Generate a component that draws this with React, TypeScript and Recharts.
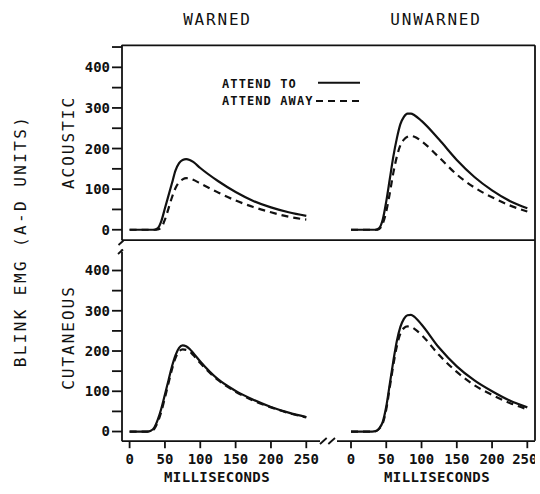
import React from 'react';
import { LineChart, Line, XAxis, YAxis } from 'recharts';

// time axis, shared by every panel
const ms = [0, 25, 30, 35, 40, 45, 50, 55, 60, 65, 70, 75, 80, 85, 90, 100, 125, 150, 175, 200, 225, 250];

// blink EMG (A-D units)
const warnedAcousticTo = [0, 0, 0, 0, 4, 22, 53, 84, 115, 146, 164, 172, 174, 172, 167, 152, 120, 93, 71, 55, 43, 34];
const warnedAcousticAway = [0, 0, 0, 0, 1, 6, 25, 52, 80, 103, 117, 124, 127, 126, 123, 114, 92, 72, 56, 43, 32, 25];
const unwarnedAcousticTo = [0, 0, 0, 0, 4, 25, 70, 125, 180, 225, 260, 278, 286, 286, 282, 268, 222, 172, 130, 97, 71, 53];
const unwarnedAcousticAway = [0, 0, 0, 0, 2, 15, 45, 90, 140, 180, 208, 222, 229, 231, 229, 218, 178, 136, 104, 80, 60, 45];
const warnedCutaneousTo = [0, 0, 2, 10, 30, 58, 92, 127, 162, 190, 208, 214, 212, 205, 195, 174, 130, 101, 79, 61, 47, 36];
const warnedCutaneousAway = [0, 0, 1, 7, 24, 50, 84, 120, 155, 183, 199, 204, 203, 199, 190, 170, 128, 99, 77, 60, 46, 35];
const unwarnedCutaneousTo = [0, 0, 0, 1, 8, 24, 62, 118, 175, 225, 260, 280, 289, 290, 285, 266, 208, 162, 127, 100, 77, 60];
const unwarnedCutaneousAway = [0, 0, 0, 1, 7, 20, 55, 110, 165, 212, 243, 257, 261, 260, 255, 240, 190, 148, 115, 91, 71, 55];

const xTicks = [0, 50, 100, 150, 200, 250];
const yTicksTop = [0, 50, 100, 150, 200, 250, 300, 350, 400, 450];
const yTicksBottom = [0, 50, 100, 150, 200, 250, 300, 350, 400];

const columns = ['WARNED', 'UNWARNED'];
const rows = ['ACOUSTIC', 'CUTANEOUS'];
const legendNames = ['ATTEND TO', 'ATTEND AWAY'];

const INK = '#111';
const MONO = '"DejaVu Sans Mono", monospace';

const toRows = (to: number[], away: number[]) =>
  ms.map((t, i) => ({ ms: t, to: to[i], away: away[i] }));

// geometry of the plot boxes (page pixels)
const AXIS_X = 121.7;
const BREAK_L = 320;
const BREAK_R = 336.7;
const RIGHT_X = 535;
const TOP_Y = 45.3;
const TOP_H = 194.9;
const BOT_Y = 251.5;
const BOT_H = 189.2;
const Y_AXIS_W = 40;
const X_AXIS_H = 40;

const leftXDomain: [number, number] = [-10.75, 269.8];
const rightXDomain: [number, number] = [-19.85, 261.3];

interface PanelProps {
  left: number;
  top: number;
  width: number;
  height: number;
  data: { ms: number; to: number; away: number }[];
  xDomain: [number, number];
  yDomain: [number, number];
  yTicks: number[];
  showY: boolean;
  showX: boolean;
}

const tickStyle = { fill: INK, fontSize: 14, fontFamily: MONO, fontWeight: 'bold' as const };

const Panel: React.FC<PanelProps> = ({ left, top, width, height, data, xDomain, yDomain, yTicks, showY, showX }) => (
  <div style={{ position: 'absolute', left, top }}>
    <LineChart width={width} height={height} data={data} margin={{ top: 0, right: 0, bottom: 0, left: 0 }}>
      <XAxis
        dataKey="ms"
        type="number"
        domain={xDomain}
        allowDataOverflow
        ticks={xTicks}
        hide={!showX}
        height={X_AXIS_H}
        tickSize={7}
        tickMargin={6}
        tick={tickStyle}
        axisLine={{ stroke: INK, strokeWidth: 1.8 }}
        tickLine={{ stroke: INK, strokeWidth: 1.8 }}
      />
      <YAxis
        type="number"
        domain={yDomain}
        allowDataOverflow
        ticks={yTicks}
        hide={!showY}
        width={Y_AXIS_W}
        tickSize={10}
        tickMargin={2}
        tick={tickStyle}
        tickFormatter={(v: number) => (v % 100 === 0 ? String(v) : '')}
        axisLine={{ stroke: INK, strokeWidth: 1.8 }}
        tickLine={{ stroke: INK, strokeWidth: 1.8 }}
      />
      <Line dataKey="to" type="monotone" stroke={INK} strokeWidth={2.2} dot={false} isAnimationActive={false} />
      <Line dataKey="away" type="monotone" stroke={INK} strokeWidth={2.2} strokeDasharray="7 5" dot={false} isAnimationActive={false} />
    </LineChart>
  </div>
);

const App: React.FC = () => {
  const topBottom = TOP_Y + TOP_H;
  const botBottom = BOT_Y + BOT_H;
  const line = { stroke: INK, strokeWidth: 1.8 };

  return (
    <div style={{ position: 'absolute', left: 0, top: 0, width: 540, height: 494, background: '#fff', overflow: 'hidden' }}>
      <Panel left={AXIS_X - Y_AXIS_W} top={TOP_Y} width={Y_AXIS_W + BREAK_L - AXIS_X} height={TOP_H}
        data={toRows(warnedAcousticTo, warnedAcousticAway)} xDomain={leftXDomain} yDomain={[-25, 455]}
        yTicks={yTicksTop} showY showX={false} />
      <Panel left={BREAK_R} top={TOP_Y} width={RIGHT_X - BREAK_R} height={TOP_H}
        data={toRows(unwarnedAcousticTo, unwarnedAcousticAway)} xDomain={rightXDomain} yDomain={[-25, 455]}
        yTicks={yTicksTop} showY={false} showX={false} />
      <Panel left={AXIS_X - Y_AXIS_W} top={BOT_Y} width={Y_AXIS_W + BREAK_L - AXIS_X} height={BOT_H + X_AXIS_H}
        data={toRows(warnedCutaneousTo, warnedCutaneousAway)} xDomain={leftXDomain} yDomain={[-24, 446]}
        yTicks={yTicksBottom} showY showX />
      <Panel left={BREAK_R} top={BOT_Y} width={RIGHT_X - BREAK_R} height={BOT_H + X_AXIS_H}
        data={toRows(unwarnedCutaneousTo, unwarnedCutaneousAway)} xDomain={rightXDomain} yDomain={[-24, 446]}
        yTicks={yTicksBottom} showY={false} showX />

      <svg width={540} height={494} style={{ position: 'absolute', left: 0, top: 0, pointerEvents: 'none' }}>
        {/* frame */}
        <line x1={AXIS_X} y1={TOP_Y} x2={RIGHT_X} y2={TOP_Y} {...line} />
        <line x1={RIGHT_X} y1={TOP_Y} x2={RIGHT_X} y2={botBottom} {...line} />
        <line x1={AXIS_X} y1={topBottom} x2={RIGHT_X} y2={topBottom} {...line} />
        {/* axis breaks */}
        <line x1={118.5} y1={245} x2={123.5} y2={240.5} {...line} />
        <line x1={118} y1={254} x2={123} y2={249.5} {...line} />
        <line x1={AXIS_X} y1={249.5} x2={AXIS_X} y2={BOT_Y} {...line} />
        <line x1={320} y1={444} x2={326.7} y2={438} {...line} />
        <line x1={328.3} y1={444} x2={335} y2={438} {...line} />

        {/* column titles */}
        <g fontFamily={MONO} fontSize={16} fill={INK}>
          <text x={217.5} y={25} textAnchor="middle" letterSpacing={1.8}>{columns[0]}</text>
          <text x={436} y={25} textAnchor="middle" letterSpacing={1.8}>{columns[1]}</text>
          <text x={74.3} y={142.5} textAnchor="middle" letterSpacing={2} transform="rotate(-90 74.3 142.5)">{rows[0]}</text>
          <text x={73.8} y={337.5} textAnchor="middle" letterSpacing={2} transform="rotate(-90 73.8 337.5)">{rows[1]}</text>
          <text x={25.8} y={241} textAnchor="middle" letterSpacing={2.4} transform="rotate(-90 25.8 241)">BLINK EMG (A-D UNITS)</text>
        </g>
        <g fontFamily={MONO} fontSize={14} fill={INK} fontWeight="bold">
          <text x={217} y={481.5} textAnchor="middle" letterSpacing={0.4}>MILLISECONDS</text>
          <text x={437} y={481.5} textAnchor="middle" letterSpacing={0.4}>MILLISECONDS</text>
        </g>

        {/* legend */}
        <g fontFamily={MONO} fontSize={12} fill={INK} fontWeight="bold" letterSpacing={1.1}>
          <text x={222} y={88}>{legendNames[0]}</text>
          <text x={222} y={105}>{legendNames[1]}</text>
        </g>
        <line x1={318} y1={82.7} x2={360} y2={82.7} stroke={INK} strokeWidth={2} />
        <line x1={316} y1={101} x2={362} y2={101} stroke={INK} strokeWidth={2} strokeDasharray="7 5" />
      </svg>
    </div>
  );
};

export default App;
